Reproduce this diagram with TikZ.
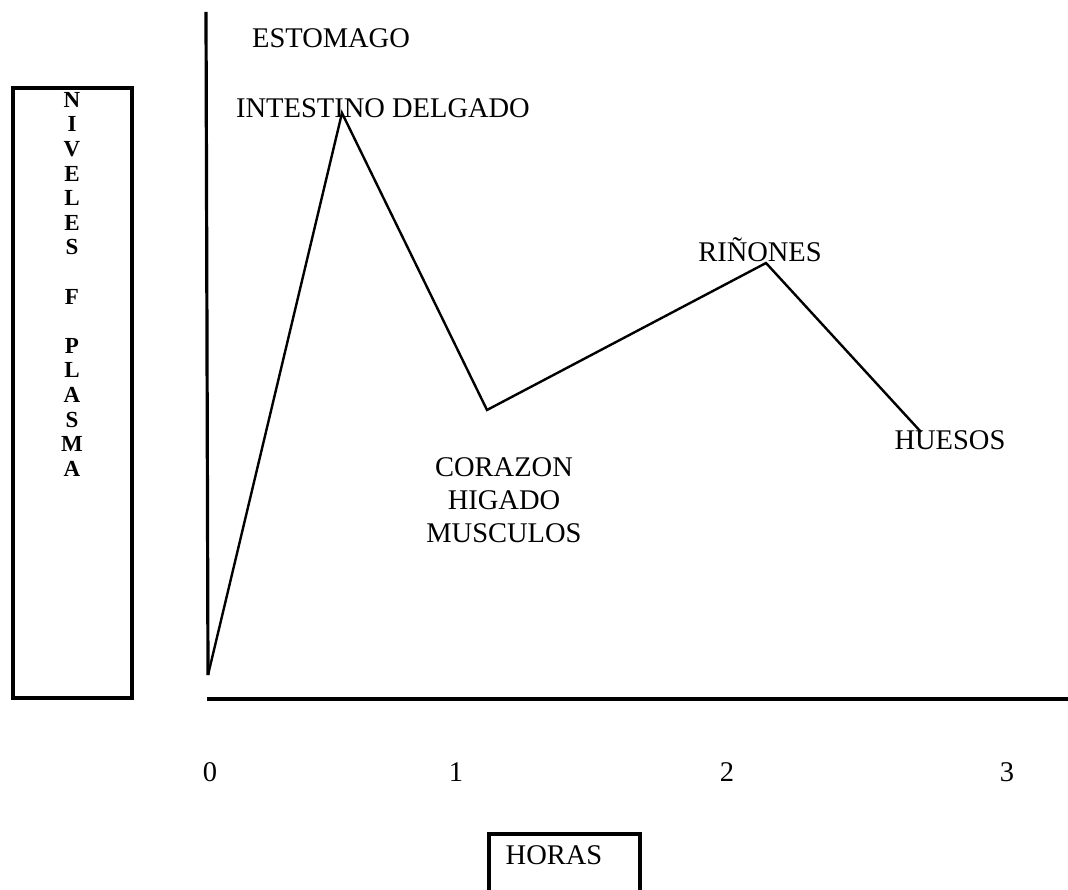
\documentclass[tikz,border=0pt]{standalone}
\usepackage{fontspec}
\setmainfont{Liberation Serif}
\begin{document}
\begin{tikzpicture}[x=1pt,y=-1pt,
  lbl/.style={inner sep=0pt,font=\fontsize{28.5}{33}\selectfont},
  vlbl/.style={inner sep=0pt,font=\fontsize{23}{24.6}\selectfont\bfseries,align=center},
  axisline/.style={line width=3.2pt},
  curve/.style={line width=2.4pt,line join=miter},
  frame/.style={line width=4pt}]
\useasboundingbox (0,0) rectangle (1068,890);
% axes
\coordinate (ytop) at (206,12);
\coordinate (p0) at (208,675);
\coordinate (xl) at (207,699);
\coordinate (xr) at (1068,699);
\draw[axisline] (ytop) -- (p0);
\draw[axisline] (xl) -- (xr);
% curve
\coordinate (p1) at (342,113);
\coordinate (p2) at (487,410);
\coordinate (p3) at (766,263);
\coordinate (p4) at (921,432);
\draw[curve] (p0) -- (p1) -- (p2) -- (p3) -- (p4);
% labels
\node[lbl] (est) at (331,38) {ESTOMAGO};
\node[lbl] (int) at (383,108) {INTESTINO DELGADO};
\node[lbl] (rin) at (760,250) {RIÑONES};
\node[lbl,align=center] (cor) at (504,500) {CORAZON\\HIGADO\\MUSCULOS};
\node[lbl] (hue) at (950,440) {HUESOS};
% ticks labels
\node[lbl] (t0) at (210,772) {0};
\node[lbl] (t1) at (456,772) {1};
\node[lbl] (t2) at (727,772) {2};
\node[lbl] (t3) at (1007,772) {3};
% y-axis box
\draw[frame] (13,88) rectangle (132,698);
\node[vlbl,anchor=north] (ylab) at (72,92) {N\\I\\V\\E\\L\\E\\S\\[24.6pt]F\\[24.6pt]P\\L\\A\\S\\M\\A};
% x-axis box
\coordinate (hb1) at (489,892);
\coordinate (hb2) at (489,834);
\coordinate (hb3) at (640,834);
\coordinate (hb4) at (640,892);
\draw[frame] (hb1) -- (hb2) -- (hb3) -- (hb4);
\node[lbl] (hor) at (554,855) {HORAS};
\end{tikzpicture}
\end{document}
